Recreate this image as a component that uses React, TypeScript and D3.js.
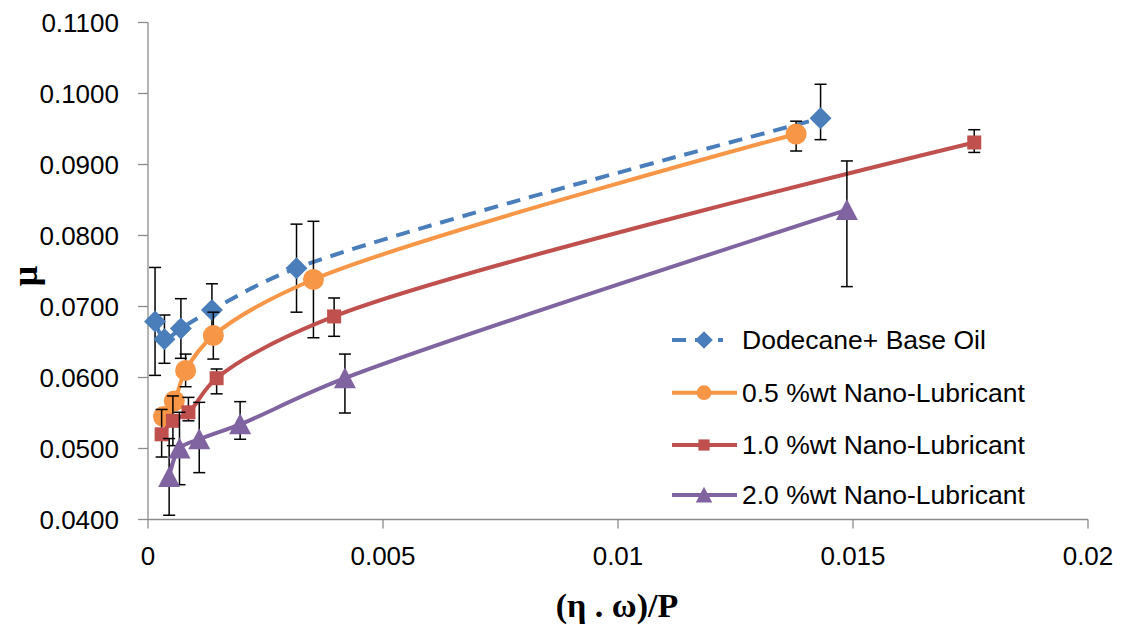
import React from "react";
import * as d3 from "d3";

const xTicks = [0, 0.005, 0.01, 0.015, 0.02];
const xTickLabels = ["0", "0.005", "0.01", "0.015", "0.02"];
const yTicks = [0.04, 0.05, 0.06, 0.07, 0.08, 0.09, 0.1, 0.11];

const seriesNames = [
  "Dodecane+ Base Oil",
  "0.5 %wt Nano-Lubricant",
  "1.0 %wt Nano-Lubricant",
  "2.0 %wt Nano-Lubricant",
];

const blueX = [0.00015, 0.00035, 0.0007, 0.00136, 0.00316, 0.01431];
const blueY = [0.0679, 0.0654, 0.0669, 0.0695, 0.0754, 0.0965];
const blueErrPlus = [0.0076, 0.0034, 0.0042, 0.0037, 0.0062, 0.0048];
const blueErrMinus = [0.0076, 0.0034, 0.0042, 0.0037, 0.0062, 0.003];

const orangeX = [0.00033, 0.00056, 0.0008, 0.00139, 0.00352, 0.01379];
const orangeY = [0.0545, 0.0567, 0.061, 0.0659, 0.0738, 0.0943];
const orangeErrPlus = [0.0008, 0.001, 0.0023, 0.0033, 0.0082, 0.0018];
const orangeErrMinus = [0.0008, 0.001, 0.0023, 0.0033, 0.0082, 0.0024];

const redX = [0.00029, 0.00053, 0.00086, 0.00146, 0.00396, 0.01758];
const redY = [0.052, 0.0539, 0.0551, 0.0599, 0.0686, 0.0931];
const redErrPlus = [0.0035, 0.0035, 0.0021, 0.0013, 0.0026, 0.0018];
const redErrMinus = [0.0032, 0.0035, 0.0012, 0.0022, 0.0028, 0.0014];

const purpleX = [0.00045, 0.00067, 0.00109, 0.00196, 0.00419, 0.01487];
const purpleY = [0.046, 0.05, 0.0513, 0.0534, 0.0599, 0.0836];
const purpleErrPlus = [0.0054, 0.0051, 0.0052, 0.0032, 0.0034, 0.0069];
const purpleErrMinus = [0.0054, 0.0051, 0.0047, 0.0021, 0.0049, 0.0108];

const colors = ["#4A7EBB", "#F79646", "#C0504D", "#8064A2"];
const markers = ["diamond", "circle", "square", "triangle"];

type S = { name: string; x: number[]; y: number[]; ep: number[]; em: number[]; color: string; marker: string; dashed: boolean };

const series: S[] = [
  { name: seriesNames[0], x: blueX, y: blueY, ep: blueErrPlus, em: blueErrMinus, color: colors[0], marker: markers[0], dashed: true },
  { name: seriesNames[1], x: orangeX, y: orangeY, ep: orangeErrPlus, em: orangeErrMinus, color: colors[1], marker: markers[1], dashed: false },
  { name: seriesNames[2], x: redX, y: redY, ep: redErrPlus, em: redErrMinus, color: colors[2], marker: markers[2], dashed: false },
  { name: seriesNames[3], x: purpleX, y: purpleY, ep: purpleErrPlus, em: purpleErrMinus, color: colors[3], marker: markers[3], dashed: false },
];

function Marker({ kind, cx, cy, color, s = 1 }: { kind: string; cx: number; cy: number; color: string; s?: number }) {
  if (kind === "circle") return <circle cx={cx} cy={cy} r={10.5 * s} fill={color} />;
  if (kind === "square") return <rect x={cx - 7 * s} y={cy - 7 * s} width={14 * s} height={14 * s} fill={color} />;
  if (kind === "diamond")
    return <path d={`M${cx},${cy - 11 * s}L${cx + 11 * s},${cy}L${cx},${cy + 11 * s}L${cx - 11 * s},${cy}Z`} fill={color} />;
  return <path d={`M${cx},${cy - 11 * s}L${cx + 11 * s},${cy + 10 * s}L${cx - 11 * s},${cy + 10 * s}Z`} fill={color} />;
}

export default function App() {
  const W = 1121, H = 625;
  const x = d3.scaleLinear().domain([0, 0.02]).range([148, 1088]);
  const y = d3.scaleLinear().domain([0.04, 0.11]).range([519.5, 22.5]);
  const axisColor = "#8C8C8C";
  const font = "'Liberation Sans', Arial, sans-serif";
  const serif = "'Liberation Serif', 'DejaVu Serif', serif";
  const line = d3
    .line<[number, number]>()
    .x((d) => x(d[0]))
    .y((d) => y(d[1]))
    .curve(d3.curveCatmullRom.alpha(0.5));
  const legendY = [340, 392.7, 445, 495];
  const legendScale = [0.8, 0.7, 0.8, 0.75];

  return (
    <svg width={W} height={H} style={{ position: "absolute", left: 0, top: 0, background: "#fff" }} fontFamily={font}>
      <rect x={0} y={0} width={W} height={H} fill="#fff" />
      {/* axes */}
      <line x1={148} x2={148} y1={y(0.11)} y2={y(0.04)} stroke={axisColor} strokeWidth={1.3} />
      <line x1={148} x2={1088} y1={y(0.04)} y2={y(0.04)} stroke={axisColor} strokeWidth={1.3} />
      {yTicks.map((t) => (
        <g key={"y" + t}>
          <line x1={138} x2={148} y1={y(t)} y2={y(t)} stroke={axisColor} strokeWidth={1.3} />
          <text x={119} y={y(t)} textAnchor="end" dominantBaseline="central" fontSize={26} fill="#000">
            {d3.format(".4f")(t)}
          </text>
        </g>
      ))}
      {xTicks.map((t, i) => (
        <g key={"x" + t}>
          <line x1={x(t)} x2={x(t)} y1={y(0.04)} y2={y(0.04) + 9} stroke={axisColor} strokeWidth={1.3} />
          <text x={x(t)} y={556} textAnchor="middle" dominantBaseline="central" fontSize={26} fill="#000">
            {xTickLabels[i]}
          </text>
        </g>
      ))}
      <text x={617} y={605} textAnchor="middle" dominantBaseline="central" fontSize={34} fontWeight="bold" fontFamily={serif}>
        (η . ω)/P
      </text>
      <text transform="translate(25,276) rotate(-90)" textAnchor="middle" dominantBaseline="central" fontSize={36} fontWeight="bold" fontFamily={serif}>
        μ
      </text>
      {/* series */}
      {series.map((s, si) => {
        const pts = s.x.map((v, i) => [v, s.y[i]] as [number, number]);
        return (
          <g key={"s" + si}>
            <path d={line(pts) || ""} fill="none" stroke={s.color} strokeWidth={4} strokeDasharray={s.dashed ? "14 9" : undefined} />
            {pts.map((p, i) => {
              const px = x(p[0]);
              const top = y(p[1] + s.ep[i]);
              const bot = y(p[1] - s.em[i]);
              return (
                <g key={"e" + i} stroke="#000" strokeWidth={1.5}>
                  <line x1={px} x2={px} y1={top} y2={bot} />
                  <line x1={px - 6} x2={px + 6} y1={top} y2={top} />
                  <line x1={px - 6} x2={px + 6} y1={bot} y2={bot} />
                </g>
              );
            })}
            {pts.map((p, i) => (
              <Marker key={"m" + i} kind={s.marker} cx={x(p[0])} cy={y(p[1])} color={s.color} />
            ))}
          </g>
        );
      })}
      {/* legend */}
      {series.map((s, si) => (
        <g key={"l" + si}>
          <line x1={672} x2={s.dashed ? 723 : 737} y1={legendY[si]} y2={legendY[si]} stroke={s.color} strokeWidth={4} strokeDasharray={s.dashed ? "14 9" : undefined} />
          <Marker kind={s.marker} cx={704} cy={legendY[si]} color={s.color} s={legendScale[si]} />
          <text x={742} y={legendY[si]} dominantBaseline="central" fontSize={26.5} fill="#000">
            {s.name}
          </text>
        </g>
      ))}
    </svg>
  );
}
